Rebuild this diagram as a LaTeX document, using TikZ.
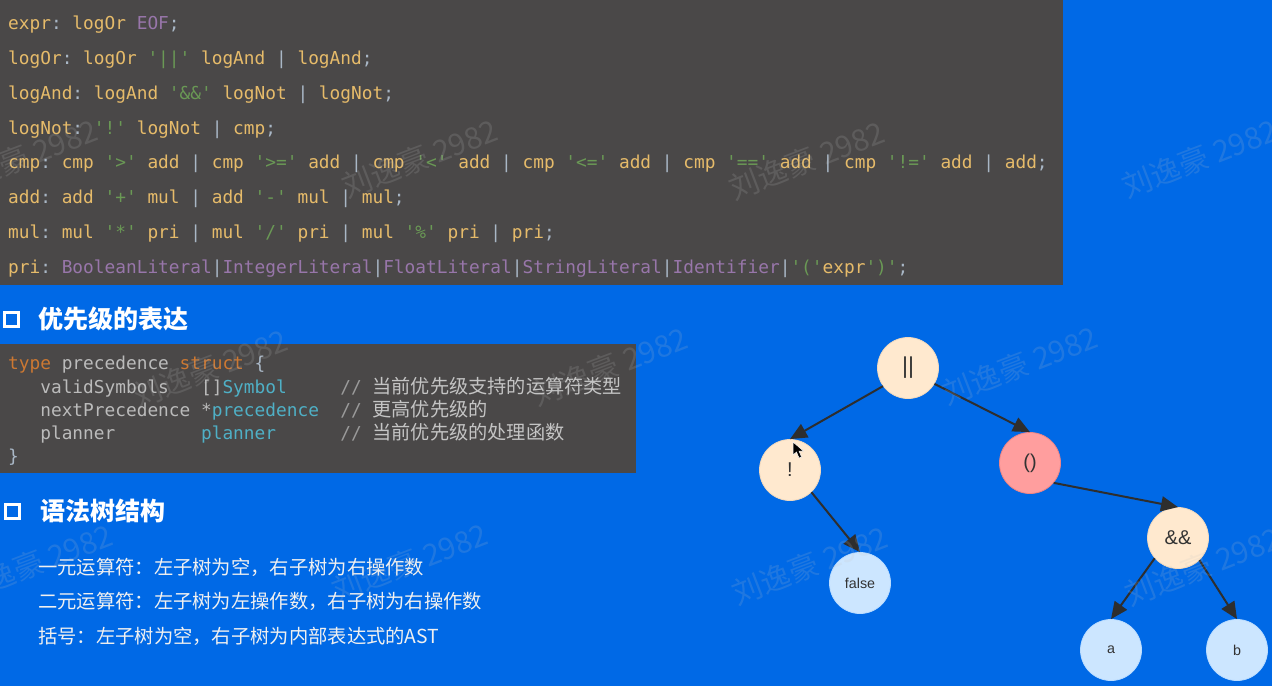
\documentclass[tikz,border=0pt]{standalone}
\usepackage{fontspec}
\setmonofont{DejaVu Sans Mono}
\newfontfamily\cjk{Noto Sans CJK SC}
\newfontfamily\treefont{Liberation Sans}
\usetikzlibrary{arrows.meta}
\definecolor{bgblue}{HTML}{0069E6}
\definecolor{codebg}{HTML}{4A4848}
\definecolor{cgold}{HTML}{E6BB6A}
\definecolor{cgray}{HTML}{A9B7C6}
\definecolor{cgreen}{HTML}{6A9955}
\definecolor{cpurple}{HTML}{9876AA}
\definecolor{corange}{HTML}{CC7832}
\definecolor{cteal}{HTML}{4FB0C6}
\definecolor{ctext}{HTML}{BBBBBB}
\definecolor{ccomment}{HTML}{9A9A9A}
\definecolor{ccjk}{HTML}{C4C4C4}
\definecolor{cream}{HTML}{FFE9CF}
\definecolor{creamedge}{HTML}{F2D9BD}
\definecolor{pinkred}{HTML}{FF9E9E}
\definecolor{pinkedge}{HTML}{EE8585}
\definecolor{lightblue}{HTML}{CCE6FF}
\definecolor{lightblueedge}{HTML}{BBDDFF}
\definecolor{arrowgray}{HTML}{2E2E2E}
\definecolor{optext}{HTML}{333333}
\newcommand\cY[1]{\textcolor{cgold}{#1}}
\newcommand\cW[1]{\textcolor{cgray}{#1}}
\newcommand\cG[1]{\textcolor{cgreen}{#1}}
\newcommand\cV[1]{\textcolor{cpurple}{#1}}
\newcommand\cO[1]{\textcolor{corange}{#1}}
\newcommand\cT[1]{\textcolor{cteal}{#1}}
\newcommand\cL[1]{\textcolor{ctext}{#1}}
\newcommand\cC[1]{\textcolor{ccomment}{#1}}
\newcommand\cmt[1]{{\cjk\fontsize{19.2}{22}\selectfont\textcolor{ccjk}{#1}}}
\tikzset{
  codeline/.style={anchor=west, inner sep=0pt, text height=0.78em, text depth=0.22em,
    font=\ttfamily\fontsize{17.8}{20}\selectfont},
  heading/.style={anchor=west, inner sep=0pt, text height=0.88em, text depth=0.12em,
    text=white, font=\cjk\bfseries\fontsize{25}{28}\selectfont},
  bulletline/.style={anchor=west, inner sep=0pt, text height=0.88em, text depth=0.12em,
    text=white!94!black, font=\cjk\fontsize{19.3}{22}\selectfont},
  headbox/.style={draw=white, line width=3pt, minimum size=14pt, inner sep=0pt},
  opnode/.style={circle, minimum size=61pt, inner sep=0pt, line width=0.8pt,
    fill=cream, draw=creamedge, text=optext, font=\treefont\fontsize{20}{22}\selectfont},
  parnode/.style={opnode, fill=pinkred, draw=pinkedge},
  leafnode/.style={circle, minimum size=61pt, inner sep=0pt, line width=0.8pt,
    fill=lightblue, draw=lightblueedge, text=optext, font=\treefont\fontsize{14.3}{16}\selectfont},
  arr/.style={draw=arrowgray, line width=2pt, -{Triangle[length=17pt,width=15pt]}},
  wmark/.style={text=gray!45!white, opacity=0.16, rotate=21, inner sep=0pt,
    font=\cjk\fontsize{30}{32}\selectfont}
}
\begin{document}
\begin{tikzpicture}[x=1pt,y=-1pt]
\useasboundingbox (0,0) rectangle (1272,686);
\fill[bgblue] (0,0) rectangle (1272,686);
% top code box
\fill[codebg] (0,0) rectangle (1063,285);
\node[codeline] (g1) at (8,27) {\cY{expr}\cW{:} \cY{logOr} \cV{EOF}\cW{;}};
\node[codeline] (g2) at (8,62) {\cY{logOr}\cW{:} \cY{logOr} \cG{'||'} \cY{logAnd} \cW{|} \cY{logAnd}\cW{;}};
\node[codeline] (g3) at (8,97) {\cY{logAnd}\cW{:} \cY{logAnd} \cG{'\&\&'} \cY{logNot} \cW{|} \cY{logNot}\cW{;}};
\node[codeline] (g4) at (8,132) {\cY{logNot}\cW{:} \cG{'!'} \cY{logNot} \cW{|} \cY{cmp}\cW{;}};
\node[codeline] (g5) at (8,166) {\cY{cmp}\cW{:} \cY{cmp} \cG{'>'} \cY{add} \cW{|} \cY{cmp} \cG{'>='} \cY{add} \cW{|} \cY{cmp} \cG{'<'} \cY{add} \cW{|} \cY{cmp} \cG{'<='} \cY{add} \cW{|} \cY{cmp} \cG{'=='} \cY{add} \cW{|} \cY{cmp} \cG{'!='} \cY{add} \cW{|} \cY{add}\cW{;}};
\node[codeline] (g6) at (8,201) {\cY{add}\cW{:} \cY{add} \cG{'+'} \cY{mul} \cW{|} \cY{add} \cG{'-'} \cY{mul} \cW{|} \cY{mul}\cW{;}};
\node[codeline] (g7) at (8,236) {\cY{mul}\cW{:} \cY{mul} \cG{'*'} \cY{pri} \cW{|} \cY{mul} \cG{'/'} \cY{pri} \cW{|} \cY{mul} \cG{'\%'} \cY{pri} \cW{|} \cY{pri}\cW{;}};
\node[codeline] (g8) at (8,271) {\cY{pri}\cW{:} \cV{BooleanLiteral}\cW{|}\cV{IntegerLiteral}\cW{|}\cV{FloatLiteral}\cW{|}\cV{StringLiteral}\cW{|}\cV{Identifier}\cW{|}\cG{'('}\cY{expr}\cG{')'}\cW{;}};
% heading 1
\node[headbox] (hb1) at (11.5,319) {};
\node[heading] (h1) at (38,325) {优先级的表达};
% struct code box
\fill[codebg] (0,344) rectangle (636,473);
\node[codeline] (s1) at (8,367) {\cO{type} \cL{precedence} \cO{struct} \cW{\{}};
\node[codeline] (s2) at (8,391) {~~~\cL{validSymbols}~~~\cL{[]}\cT{Symbol}~~~~~\cC{//} \cmt{当前优先级支持的运算符类型}};
\node[codeline] (s3) at (8,414) {~~~\cL{nextPrecedence} \cL{*}\cT{precedence}~~\cC{//} \cmt{更高优先级的}};
\node[codeline] (s4) at (8,437) {~~~\cL{planner}~~~~~~~~\cT{planner}~~~~~~\cC{//} \cmt{当前优先级的处理函数}};
\node[codeline] (s5) at (8,460) {\cW{\}}};
% heading 2
\node[headbox] (hb2) at (12,511) {};
\node[heading] (h2) at (40,517) {语法树结构};
\node[bulletline] (b1) at (38,571) {一元运算符：左子树为空，右子树为右操作数};
\node[bulletline] (b2) at (38,605) {二元运算符：左子树为左操作数，右子树为右操作数};
\node[bulletline] (b3) at (38,640) {括号：左子树为空，右子树为内部表达式的AST};
% tree
\node[opnode, font=\treefont\fontsize{23}{24}\selectfont] (or) at (908,368) {||};
\node[opnode] (not) at (790,470) {!};
\node[parnode] (par) at (1030,463) {()};
\node[leafnode] (false) at (860,583) {false};
\node[opnode] (and) at (1178,538) {\&\&};
\node[leafnode] (a) at (1111,650) {a};
\node[leafnode] (b) at (1237,650) {b};
\draw[arr] (or.216) -- (not.north);
\draw[arr] (or.-31) -- (par.north);
\draw[arr] (not.-46) -- (false.north);
\draw[arr] (par.-40) -- (and.north);
\draw[arr] (and.221) -- (a.north);
\draw[arr] (and.-46) -- (b.north);
% mouse cursor
\filldraw[fill=black, draw=white, line width=0.5pt]
  (793,442) -- (793,455) -- (796.5,452) -- (799,458) -- (801.5,457) -- (799,451) -- (803.5,451) -- cycle;
% watermarks
\foreach \i/\wx/\wy in {1/20/158, 2/420/158, 3/807/160, 4/1200/158,
                      5/210/368, 6/610/366, 7/1020/365,
                      8/35/563, 9/410/562, 10/810/565, 11/1203/566}{
  \node[wmark] (wm\i) at (\wx,\wy) {刘逸豪 2982};
}
\end{tikzpicture}
\end{document}
